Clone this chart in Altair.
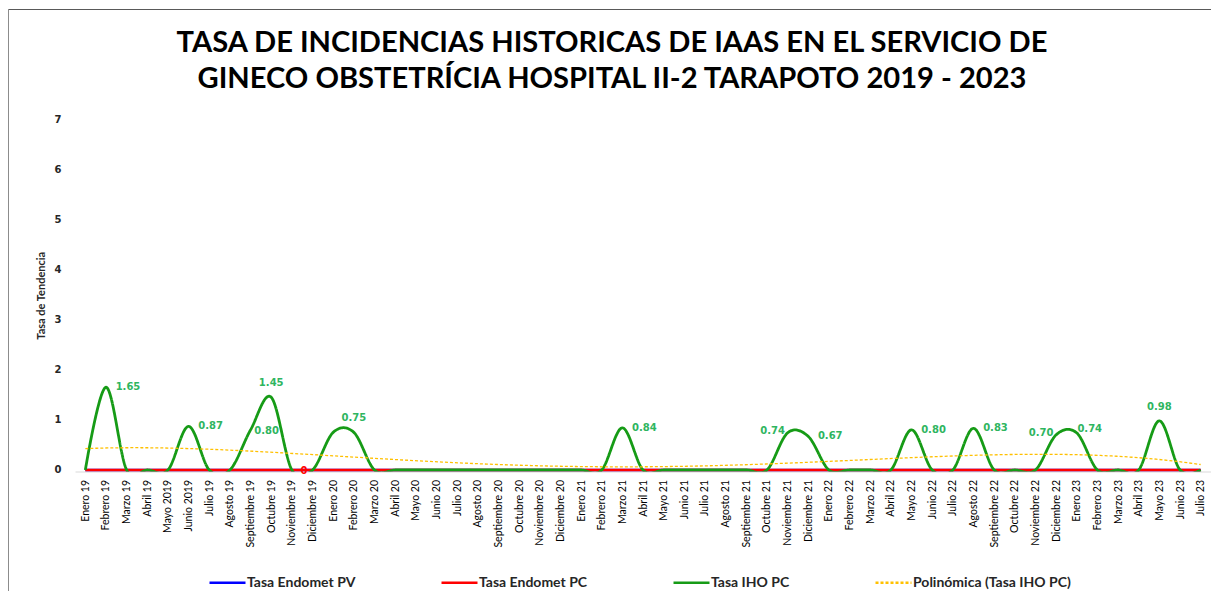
import altair as alt
import pandas as pd

# ---------------- data ----------------
meses = [
    "Enero 19", "Febrero 19", "Marzo 19", "Abril 19", "Mayo 2019", "Junio 2019",
    "Julio 19", "Agosto 19", "Septiembre 19", "Octubre 19", "Noviembre 19", "Diciembre 19",
    "Enero 20", "Febrero 20", "Marzo 20", "Abril 20", "Mayo 20", "Junio 20",
    "Julio 20", "Agosto 20", "Septiembre 20", "Octubre 20", "Noviembre 20", "Diciembre 20",
    "Enero 21", "Febrero 21", "Marzo 21", "Abril 21", "Mayo 21", "Junio 21",
    "Julio 21", "Agosto 21", "Septiembre 21", "Octubre 21", "Noviembre 21", "Diciembre 21",
    "Enero 22", "Febrero 22", "Marzo 22", "Abril 22", "Mayo 22", "Junio 22",
    "Julio 22", "Agosto 22", "Septiembre 22", "Octubre 22", "Noviembre 22", "Diciembre 22",
    "Enero 23", "Febrero 23", "Marzo 23", "Abril 23", "Mayo 23", "Junio 23", "Julio 23",
]

tasa_endomet_pv = [
    0, 0, 0, 0, 0, 0, 0, 0, 0, 0, 0, 0,
    0, 0, 0, 0, 0, 0, 0, 0, 0, 0, 0, 0,
    0, 0, 0, 0, 0, 0, 0, 0, 0, 0, 0, 0,
    0, 0, 0, 0, 0, 0, 0, 0, 0, 0, 0, 0,
    0, 0, 0, 0, 0, 0, 0,
]
tasa_endomet_pc = [
    0, 0, 0, 0, 0, 0, 0, 0, 0, 0, 0, 0,
    0, 0, 0, 0, 0, 0, 0, 0, 0, 0, 0, 0,
    0, 0, 0, 0, 0, 0, 0, 0, 0, 0, 0, 0,
    0, 0, 0, 0, 0, 0, 0, 0, 0, 0, 0, 0,
    0, 0, 0, 0, 0, 0, 0,
]
tasa_iho_pc = [
    0, 1.65, 0, 0, 0, 0.87, 0, 0, 0.80, 1.45, 0, 0,
    0.75, 0.75, 0, 0, 0, 0, 0, 0, 0, 0, 0, 0,
    0, 0, 0.84, 0, 0, 0, 0, 0, 0, 0, 0.74, 0.67,
    0, 0, 0, 0, 0.80, 0, 0, 0.83, 0, 0, 0, 0.70,
    0.74, 0, 0, 0, 0.98, 0, 0,
]

# where each shown data label sits relative to its point
etiqueta_iho = {
    "Febrero 19": "right", "Junio 2019": "right", "Septiembre 19": "near",
    "Octubre 19": "above", "Febrero 20": "above", "Marzo 21": "right",
    "Noviembre 21": "left", "Diciembre 21": "right", "Mayo 22": "right",
    "Agosto 22": "right", "Diciembre 22": "left", "Enero 23": "upright",
    "Mayo 23": "above",
}
etiqueta_pc = {"Noviembre 19": "right"}

S_PV = "Tasa Endomet PV"
S_PC = "Tasa Endomet PC"
S_IHO = "Tasa IHO PC"
S_POL = "Polinómica (Tasa IHO PC)"
series = [S_PV, S_PC, S_IHO, S_POL]
colores = ["#0000FF", "#FF0000", "#169B16", "#FFC000"]
trazos = [[1, 0], [1, 0], [1, 0], [3, 2]]

titulo = [
    "TASA DE INCIDENCIAS HISTORICAS DE IAAS EN EL SERVICIO DE",
    "GINECO OBSTETRÍCIA HOSPITAL II-2 TARAPOTO 2019 - 2023",
]

n = len(meses)
df = pd.DataFrame({
    "idx": list(range(n)),
    "mes": meses,
    S_PV: tasa_endomet_pv,
    S_PC: tasa_endomet_pc,
    S_IHO: tasa_iho_pc,
    "pos_iho": [etiqueta_iho.get(m, "") for m in meses],
    "pos_pc": [etiqueta_pc.get(m, "") for m in meses],
})

# ---------------- layout ----------------
W, H = 1136, 352.5
PAD = {"left": 67, "top": 111, "right": 0, "bottom": 119.5}
CAL = "Lato"
LBL_GREEN = "#2FB55F"

mes_expr = "[" + ",".join("'" + m + "'" for m in meses) + "][datum.value]"

x_q = alt.X(
    "idx:Q",
    scale=alt.Scale(domain=[-0.5, n - 0.5], nice=False, zero=False),
    axis=alt.Axis(
        title=None, values=list(range(n)), labelExpr=mes_expr, labelAngle=-90,
        labelFont=CAL, labelFontSize=10.5, labelColor="#000000", labelPadding=8,
        ticks=False, domain=True, domainColor="#d9d9d9", domainWidth=1,
        labelOverlap=False, labelFlush=False, grid=False,
    ),
)
y_q = alt.Y(
    "valor:Q",
    scale=alt.Scale(domain=[-0.03, 7], nice=False, zero=False),
    axis=alt.Axis(
        title="Tasa de Tendencia", values=list(range(8)), format="d",
        labelFont="DejaVu Sans", labelFontWeight="bold", labelFontSize=10,
        labelColor="#262626", labelPadding=14, ticks=False, domain=False,
        grid=False, titleFont=CAL, titleFontSize=11, titleFontWeight="bold",
        titleColor="#262626", titlePadding=8,
    ),
)
leyenda = alt.Legend(
    title=None, orient="none", legendX=133, legendY=444, direction="horizontal",
    symbolType="stroke", symbolSize=1296, symbolStrokeWidth=2.5,
    labelFont=CAL, labelFontSize=14, labelFontWeight="bold", labelColor="#262626",
    labelOffset=0, columnPadding=80, labelLimit=400, padding=0,
)
color = alt.Color("serie:N", scale=alt.Scale(domain=series, range=colores), legend=leyenda)
dash = alt.StrokeDash("serie:N", scale=alt.Scale(domain=series, range=trazos), legend=leyenda)

base = alt.Chart(df).transform_fold([S_PV, S_PC, S_IHO], as_=["serie", "valor"])

l_pv = base.transform_filter(alt.datum.serie == S_PV).mark_line(strokeWidth=2.5).encode(
    x=x_q, y=y_q, color=color, strokeDash=dash)
l_pc = base.transform_filter(alt.datum.serie == S_PC).mark_line(strokeWidth=2.5).encode(
    x=x_q, y=y_q, color=color, strokeDash=dash)
l_iho = base.transform_filter(alt.datum.serie == S_IHO).mark_line(
    strokeWidth=2.8, interpolate="cardinal", clip=True).encode(
    x=x_q, y=y_q, color=color, strokeDash=dash)

trend = alt.Chart(df).transform_regression(
    "idx", S_IHO, method="poly", order=4, extent=[0, n - 1], as_=["idx", "valor"]
).transform_calculate(serie="'" + S_POL + "'").mark_line(strokeWidth=1.3).encode(
    x=x_q, y=y_q, color=color, strokeDash=dash)

txt_style = dict(font="DejaVu Sans", fontWeight="bold", fontSize=10, baseline="middle", align="center")
iho_pts = base.transform_filter(alt.datum.serie == S_IHO)


def etiquetas(pos, dx, dy):
    return iho_pts.transform_filter(alt.datum.pos_iho == pos).mark_text(
        dx=dx, dy=dy, color=LBL_GREEN, **txt_style).encode(
        x=x_q, y=y_q, text=alt.Text("valor:Q", format=".2f"))


t_right = etiquetas("right", 22, 0)
t_near = etiquetas("near", 16, 1)
t_above = etiquetas("above", 0, -14)
t_left = etiquetas("left", -15, -2)
t_upright = etiquetas("upright", 13, -4)
t_pc = base.transform_filter(alt.datum.serie == S_PC).transform_filter(
    alt.datum.pos_pc == "right").mark_text(dx=12, dy=1, color="#FF0000", **txt_style).encode(
    x=x_q, y=y_q, text=alt.Text("valor:Q", format="d"))

# outer frame of the chart area (left and top edges are visible in the reference)
marco = pd.DataFrame({"k": [0]})
borde_izq = alt.Chart(marco).mark_rule(stroke="#8c8c8c", strokeWidth=1).encode(
    x=alt.value(-66.5), y=alt.value(-109.5), y2=alt.value(H + 200))
borde_sup = alt.Chart(marco).mark_rule(stroke="#595959", strokeWidth=1).encode(
    x=alt.value(-66.5), x2=alt.value(W + 30), y=alt.value(-109.5))

chart = alt.layer(
    borde_izq, borde_sup, l_pv, l_pc, l_iho, trend,
    t_right, t_near, t_above, t_left, t_upright, t_pc
).properties(
    width=W, height=H,
    autosize=alt.AutoSizeParams(type="none"),
    padding=PAD,
    background="white",
    title=alt.TitleParams(
        text=titulo, font=CAL, fontSize=29.1, fontWeight="bold", color="#000000",
        anchor="middle", frame="group", dx=-31, offset=-85, lineHeight=36,
    ),
).configure_view(stroke=None, strokeWidth=0).configure_axis(grid=False)

chart.save("out.html", embed_options={"renderer": "svg", "actions": False})
